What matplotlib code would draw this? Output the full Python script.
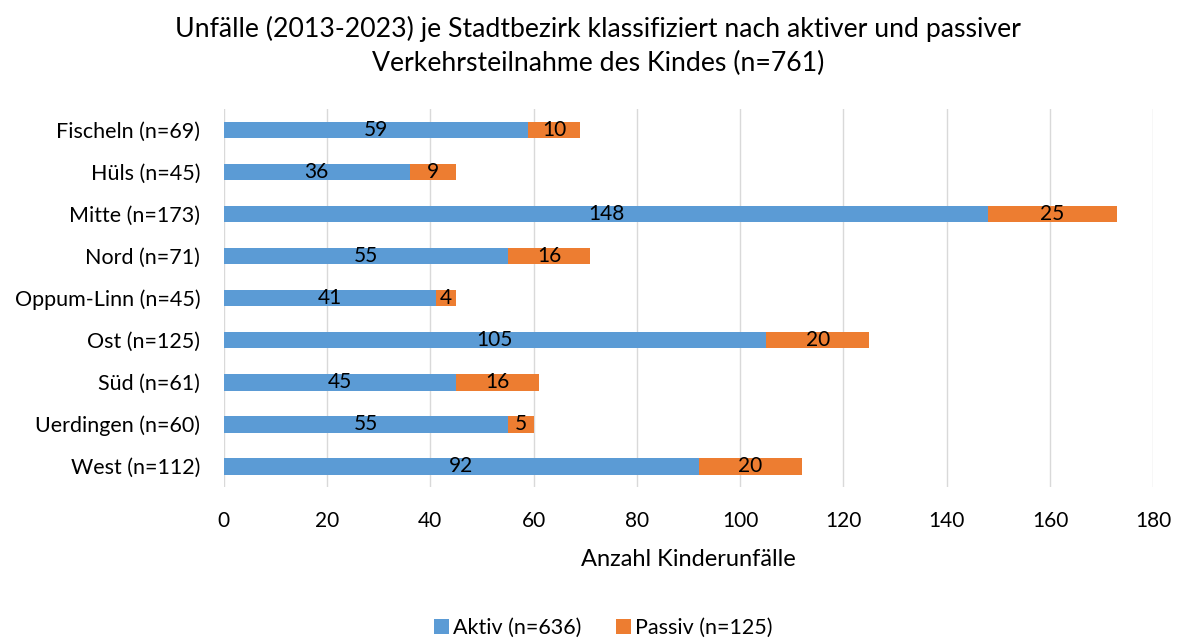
import numpy as np
import matplotlib.pyplot as plt

plt.rcParams['font.family'] = ['Lato', 'DejaVu Sans']

bezirke = ['Fischeln (n=69)', 'Hüls (n=45)', 'Mitte (n=173)', 'Nord (n=71)',
           'Oppum-Linn (n=45)', 'Ost (n=125)', 'Süd (n=61)', 'Uerdingen (n=60)',
           'West (n=112)']
aktiv = [59, 36, 148, 55, 41, 105, 45, 55, 92]
passiv = [10, 9, 25, 16, 4, 20, 16, 5, 20]

blau = '#5B9BD5'
orange = '#ED7D31'

fig = plt.figure(figsize=(11.78, 6.41), dpi=100)
ax = fig.add_axes([0.190, 0.240, 0.789, 0.590])

y = np.arange(len(bezirke))
b1 = ax.barh(y, aktiv, height=0.4, color=blau, label='Aktiv (n=636)', zorder=3)
b2 = ax.barh(y, passiv, left=aktiv, height=0.4, color=orange, label='Passiv (n=125)', zorder=3)
ax.bar_label(b1, label_type='center', fontsize=15, color='black')
ax.bar_label(b2, label_type='center', fontsize=15, color='black')

ax.set_ylim(len(bezirke) - 0.5, -0.5)
ax.set_yticks(y)
ax.set_yticklabels(bezirke, fontsize=15.5)
ax.set_xlim(0, 180)
ax.set_xticks(range(0, 181, 20))
ax.tick_params(axis='x', labelsize=15, length=0, pad=17)
ax.tick_params(axis='y', length=0, pad=17)
ax.grid(axis='x', color='#D9D9D9', linewidth=1, zorder=0)
for s in ax.spines.values():
    s.set_visible(False)

ax.set_xlabel('Anzahl Kinderunfälle', fontsize=17, labelpad=13)
fig.suptitle('Unfälle (2013-2023) je Stadtbezirk klassifiziert nach aktiver und passiver\n'
             'Verkehrsteilnahme des Kindes (n=761)', fontsize=19.2, y=0.975, x=0.508,
             linespacing=1.45)

fig.legend(handles=[b1, b2], loc='center', bbox_to_anchor=(0.512, 0.02), ncol=2,
           frameon=False, fontsize=15.5, handlelength=0.7, handleheight=0.7,
           handletextpad=0.2, columnspacing=1.6)

fig.savefig('out.png', dpi=100)
